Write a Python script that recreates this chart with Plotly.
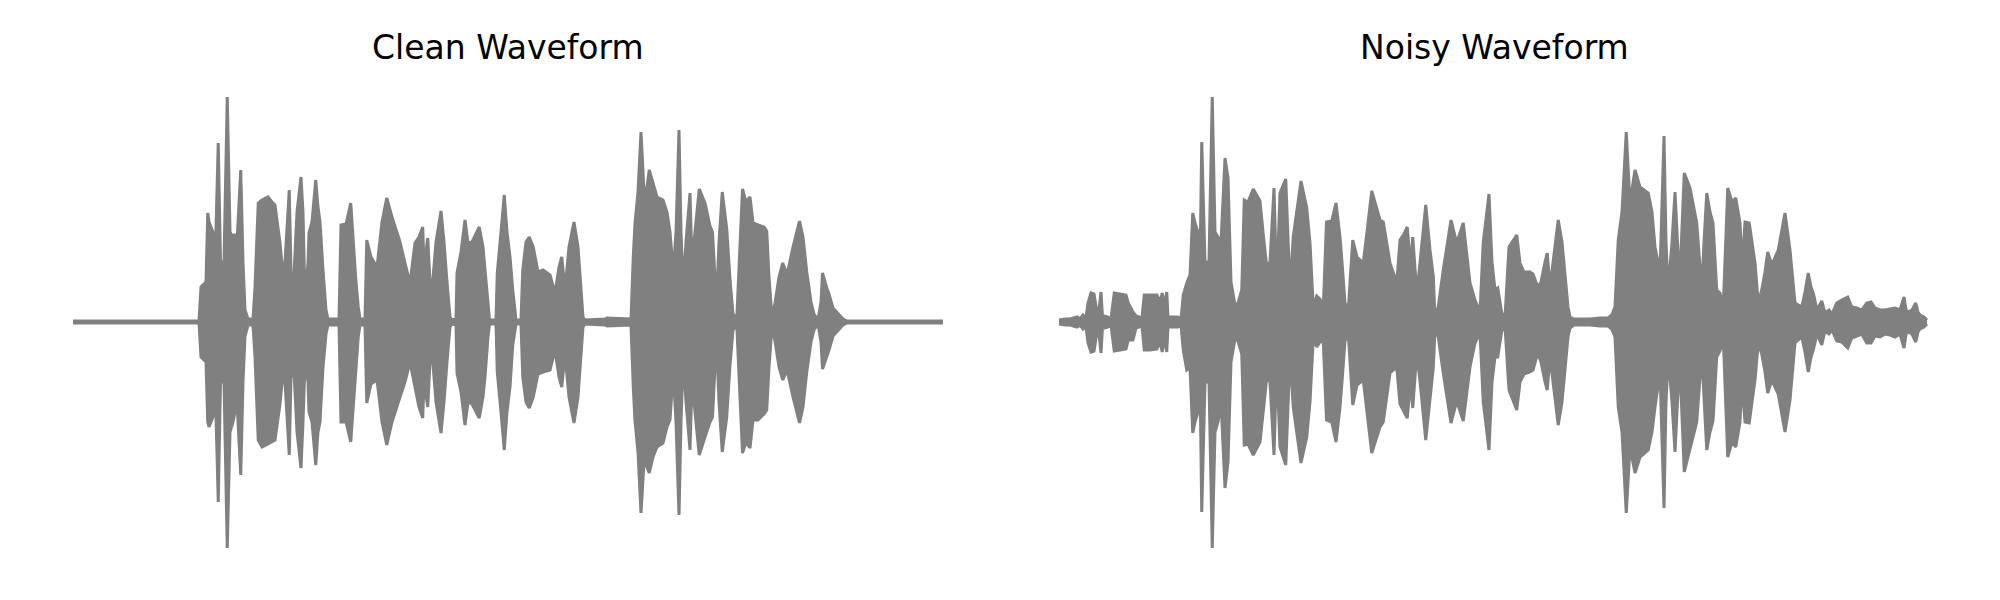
import plotly.graph_objects as go

# Envelope of each waveform.
# time in ms, amplitude in arbitrary units (peak ~226); upper = +, lower = magnitude below zero
clean_t = [0, 504, 512, 532, 539, 544, 552, 560, 568, 581, 590, 604, 617, 628, 640, 648, 656, 671, 680, 688,
           700, 720, 728, 741, 756, 780, 796, 808, 828, 841, 848, 865, 872, 884, 896, 912, 920, 928, 940, 944,
           956, 971, 980, 988, 1000, 1012, 1020, 1064, 1072, 1092, 1111, 1120, 1132, 1141, 1148, 1168, 1175, 1192,
           1216, 1236, 1255, 1276, 1308, 1328, 1348, 1368, 1384, 1399, 1404, 1419, 1428, 1436, 1452, 1472, 1484,
           1496, 1508, 1516, 1532, 1536, 1552, 1568, 1580, 1596, 1612, 1625, 1640, 1648, 1660, 1666, 1692, 1697,
           1712, 1725, 1736, 1748, 1759, 1768, 1772, 1792, 1799, 1812, 1825, 1841, 1860, 1880, 1908, 1928, 1944,
           1955, 1968, 1984, 2004, 2020, 2028, 2040, 2048, 2128, 2136, 2232, 2241, 2248, 2260, 2272, 2284, 2296,
           2305, 2320, 2336, 2360, 2376, 2388, 2401, 2412, 2424, 2432, 2441, 2452, 2468, 2476, 2484, 2505, 2528,
           2548, 2558, 2568, 2576, 2584, 2597, 2615, 2628, 2640, 2655, 2664, 2678, 2692, 2708, 2720, 2740, 2764,
           2775, 2784, 2796, 2808, 2824, 2839, 2856, 2880, 2906, 2920, 2935, 2952, 2964, 2980, 2992, 2998, 3015,
           3024, 3040, 3060, 3080, 3096, 3480]
clean_up = [1, 1, 35, 40, 109, 100, 95, 90, 55, 179, 60, 60, 225, 90, 85, 88, 80, 152, 60, 12,
            3, 3, 35, 119, 122, 125, 120, 117, 79, 45, 60, 132, 50, 48, 110, 145, 110, 22, 60, 89,
            100, 142, 115, 100, 52, 12, 3, 3, 97, 98, 119, 82, 40, 15, 3, 3, 82, 65,
            55, 100, 124, 105, 80, 59, 39, 79, 85, 95, 55, 84, 40, 32, 80, 111, 80,
            40, 5, 2, 3, 49, 70, 102, 79, 80, 88, 95, 75, 52, 15, 2, 2, 49,
            90, 127, 90, 65, 32, 8, 2, 2, 52, 80, 85, 75, 50, 52, 47, 29, 55,
            65, 32, 75, 100, 75, 49, 5, 2, 3, 4, 3, 65, 99, 130, 190, 130, 135,
            152, 139, 125, 122, 110, 90, 50, 90, 192, 90, 35, 80, 129, 60, 80, 133, 119,
            96, 90, 45, 30, 80, 130, 93, 43, 8, 3, 60, 133, 120, 125, 99, 97, 95,
            91, 45, 5, 19, 45, 59, 47, 75, 101, 85, 50, 20, 8, 2, 20, 49, 34,
            28, 14, 8, 3, 1, 1]
clean_lo = [1, 1, 35, 40, 100, 105, 100, 95, 55, 180, 60, 60, 226, 110, 100, 90, 80, 153, 60, 14,
            3, 3, 35, 118, 125, 122, 120, 118, 82, 48, 60, 133, 55, 50, 110, 146, 100, 41, 60, 90,
            100, 143, 110, 100, 45, 12, 3, 3, 100, 100, 120, 85, 40, 15, 3, 3, 81, 62,
            58, 100, 123, 100, 75, 60, 40, 65, 85, 96, 60, 85, 40, 30, 80, 111, 80,
            40, 5, 2, 3, 51, 70, 103, 80, 82, 90, 96, 75, 55, 15, 2, 2, 50,
            90, 128, 90, 65, 23, 8, 2, 2, 55, 80, 86, 75, 52, 50, 48, 28, 55,
            65, 32, 75, 101, 75, 48, 5, 2, 3, 4, 3, 65, 99, 130, 191, 140, 145,
            151, 135, 125, 121, 105, 98, 50, 100, 193, 100, 35, 80, 128, 60, 80, 133, 115,
            100, 95, 45, 30, 80, 130, 95, 43, 8, 3, 60, 131, 120, 126, 98, 98, 92,
            88, 45, 5, 19, 45, 58, 48, 75, 101, 85, 50, 20, 8, 2, 20, 47, 35,
            28, 14, 8, 3, 1, 1]

noisy_t = [0, 24, 44, 64, 72, 84, 96, 108, 116, 128, 140, 152, 160, 168, 174, 184, 196, 208, 221, 244,
           268, 277, 296, 308, 324, 332, 341, 364, 392, 404, 413, 420, 431, 436, 452, 476, 488, 497, 511, 524,
           535, 544, 556, 564, 571, 584, 600, 613, 624, 636, 648, 664, 676, 688, 704, 716, 731, 741, 756, 777,
           804, 820, 831, 844, 860, 871, 884, 907, 924, 937, 956, 968, 991, 1004, 1017, 1031, 1044, 1057, 1070,
           1091, 1108, 1124, 1132, 1144, 1157, 1175, 1192, 1217, 1232, 1251, 1284, 1297, 1324, 1351, 1364, 1380,
           1393, 1406, 1415, 1431, 1444, 1467, 1484, 1497, 1504, 1517, 1537, 1568, 1591, 1617, 1644, 1664, 1684,
           1697, 1720, 1732, 1744, 1755, 1771, 1784, 1800, 1831, 1844, 1860, 1884, 1896, 1915, 1928, 1944, 1953,
           1964, 1976, 1997, 2012, 2024, 2036, 2044, 2060, 2124, 2164, 2196, 2211, 2224, 2237, 2252, 2269, 2284,
           2304, 2324, 2357, 2372, 2384, 2404, 2420, 2428, 2437, 2452, 2464, 2476, 2484, 2501, 2524, 2551, 2571,
           2580, 2591, 2604, 2616, 2631, 2644, 2657, 2664, 2675, 2692, 2707, 2724, 2732, 2744, 2761, 2772, 2784,
           2797, 2811, 2824, 2835, 2851, 2877, 2904, 2924, 2944, 2971, 2984, 2997, 3008, 3017, 3032, 3051, 3064,
           3080, 3092, 3111, 3131, 3155, 3171, 3191, 3211, 3231, 3248, 3264, 3284, 3304, 3324, 3344, 3364, 3380,
           3388, 3397, 3412, 3427, 3436, 3444, 3460, 3472]
noisy_up = [2, 3, 3, 4, 5, 3, 7, 4, 19, 29, 28, 10, 12, 30, 5, 6, 5, 3, 29, 28,
            27, 19, 10, 6, 5, 4, 27, 27, 27, 20, 29, 15, 30, 5, 5, 5, 3, 27, 39, 47,
            109, 99, 90, 55, 180, 60, 60, 225, 90, 85, 80, 164, 144, 40, 17, 19, 32, 122, 120, 133,
            121, 80, 56, 60, 134, 35, 129, 143, 32, 85, 120, 141, 114, 79, 15, 26, 23, 13, 100,
            101, 119, 85, 60, 19, 12, 82, 65, 59, 90, 131, 102, 100, 59, 39, 82, 88,
            95, 55, 85, 29, 59, 117, 72, 46, 5, 15, 52, 102, 79, 99, 39, 22, 10,
            80, 128, 60, 32, 34, 9, 5, 75, 87, 59, 50, 50, 48, 35, 40, 60, 69,
            35, 60, 102, 80, 45, 15, 5, 3, 3, 4, 4, 7, 15, 82, 110, 190, 119,
            152, 135, 129, 110, 75, 50, 186, 80, 32, 80, 130, 70, 45, 149, 134, 99, 32,
            80, 129, 110, 99, 32, 29, 15, 60, 134, 120, 124, 99, 55, 100, 99, 80, 59,
            19, 32, 50, 70, 57, 72, 109, 72, 19, 15, 30, 49, 35, 29, 12, 21, 9,
            12, 8, 19, 22, 25, 15, 14, 12, 19, 20, 14, 12, 12, 13, 14, 12, 25,
            12, 10, 12, 19, 10, 7, 5, 2]
noisy_lo = [2, 3, 3, 4, 5, 3, 7, 4, 21, 30, 29, 10, 12, 31, 5, 6, 5, 3, 29, 28,
            27, 18, 18, 6, 5, 4, 28, 28, 27, 20, 30, 15, 30, 5, 5, 5, 3, 28, 48, 46,
            111, 100, 90, 55, 190, 60, 60, 226, 110, 100, 80, 166, 140, 40, 17, 19, 32, 123, 122, 133,
            120, 80, 56, 60, 133, 40, 125, 143, 33, 85, 120, 141, 115, 80, 17, 25, 20, 19, 98,
            100, 120, 85, 60, 19, 12, 83, 63, 58, 90, 131, 105, 100, 51, 45, 82, 90,
            96, 60, 86, 31, 59, 118, 75, 46, 8, 15, 51, 101, 79, 99, 45, 21, 11,
            80, 128, 60, 35, 35, 9, 5, 68, 88, 60, 52, 50, 48, 31, 40, 60, 68,
            35, 60, 103, 80, 48, 15, 6, 3, 3, 4, 4, 7, 15, 85, 110, 191, 125,
            151, 135, 128, 110, 85, 50, 186, 80, 35, 80, 130, 70, 45, 150, 128, 100, 32,
            80, 128, 110, 99, 35, 29, 15, 60, 135, 120, 125, 100, 60, 100, 101, 80, 58,
            21, 32, 50, 71, 58, 72, 110, 78, 21, 15, 30, 50, 35, 28, 12, 23, 9,
            12, 8, 19, 20, 26, 16, 14, 12, 21, 21, 14, 15, 12, 13, 15, 12, 26,
            12, 10, 12, 20, 10, 7, 5, 2]

titles = ["Clean Waveform", "Noisy Waveform"]

COLOR = "#808080"
DURATION = 3480
x_domains = [[71 / 2000, 945 / 2000], [1057 / 2000, 1931 / 2000]]

fig = go.Figure()
panels = [(clean_t, clean_up, clean_lo), (noisy_t, noisy_up, noisy_lo)]
for i, (t, up, lo) in enumerate(panels):
    xa = "x" if i == 0 else "x2"
    fig.add_trace(go.Scatter(x=t, y=up, mode="lines", xaxis=xa, yaxis="y",
                             line=dict(color=COLOR, width=3), hoverinfo="skip", showlegend=False))
    fig.add_trace(go.Scatter(x=t, y=[-v for v in lo], mode="lines", xaxis=xa, yaxis="y",
                             fill="tonexty", fillcolor=COLOR,
                             line=dict(color=COLOR, width=3), hoverinfo="skip", showlegend=False))

axis_off = dict(visible=False, showgrid=False, zeroline=False, fixedrange=True)
fig.update_layout(
    width=2000, height=600,
    margin=dict(l=0, r=0, t=0, b=0),
    paper_bgcolor="white", plot_bgcolor="white",
    xaxis=dict(domain=x_domains[0], range=[-8, DURATION + 8], **axis_off),
    xaxis2=dict(domain=x_domains[1], range=[-8, DURATION + 8], anchor="y", **axis_off),
    yaxis=dict(domain=[0, 1], range=[-278, 322], **axis_off),
    font=dict(family="DejaVu Sans", color="black"),
)
for i, title in enumerate(titles):
    d = x_domains[i]
    fig.add_annotation(text=title, xref="paper", yref="paper", x=(d[0] + d[1]) / 2, y=1 - 47 / 600,
                       xanchor="center", yanchor="middle", showarrow=False,
                       font=dict(family="DejaVu Sans", size=33, color="black"))

fig.write_html("out.html", config={"displayModeBar": False},
               post_script="document.body.style.margin='0';document.body.style.overflow='hidden';")
